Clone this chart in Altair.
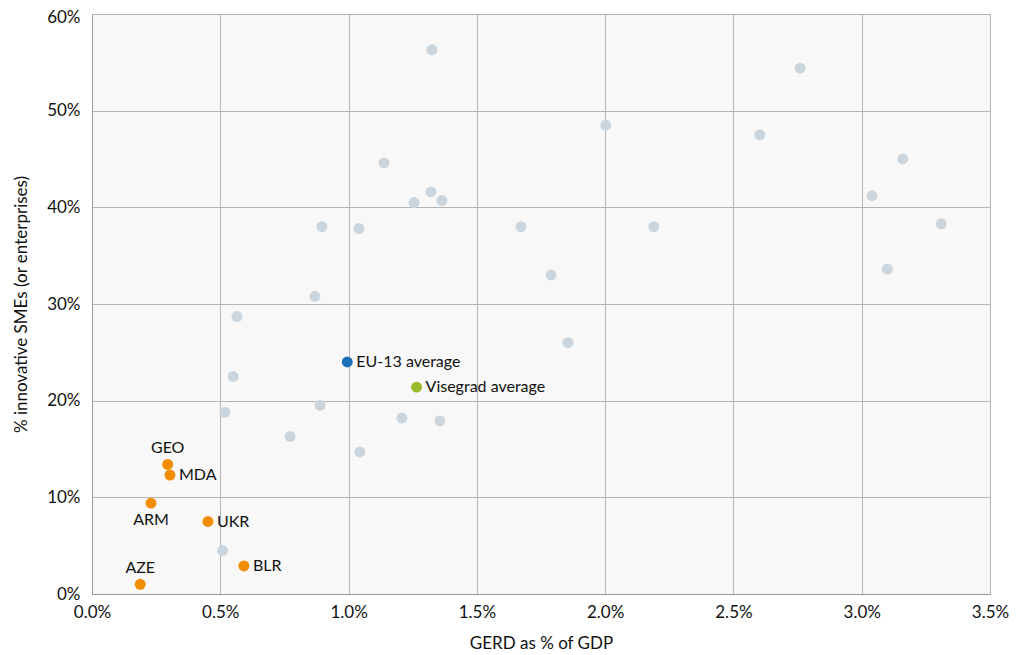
import altair as alt
import pandas as pd

# Other countries (grey)
other_x = [1.325, 2.76, 2.003, 2.603, 3.16, 3.04, 3.31, 3.10, 1.138, 1.321, 1.255, 1.364,
           0.896, 1.04, 1.672, 2.19, 1.789, 0.869, 0.565, 1.855, 0.55, 0.518, 0.889, 1.208,
           1.356, 0.772, 1.044, 0.509]
other_y = [56.3, 54.4, 48.5, 47.5, 45.0, 41.2, 38.3, 33.6, 44.6, 41.6, 40.5, 40.7,
           38.0, 37.8, 38.0, 38.0, 33.0, 30.8, 28.7, 26.0, 22.5, 18.8, 19.5, 18.2,
           17.9, 16.3, 14.7, 4.5]

# Eastern partnership countries (orange)
ep_names = ["GEO", "MDA", "ARM", "UKR", "BLR", "AZE"]
ep_x = [0.295, 0.304, 0.23, 0.452, 0.592, 0.188]
ep_y = [13.4, 12.3, 9.4, 7.5, 2.9, 1.0]

# Averages
avg_names = ["EU-13 average", "Visegrad average"]
avg_x = [0.995, 1.265]
avg_y = [24.0, 21.4]
avg_colors = ["#1f6fb8", "#9bbb2a"]

other = pd.DataFrame({"x": [v / 100 for v in other_x], "y": [v / 100 for v in other_y]})
ep = pd.DataFrame({"name": ep_names, "x": [v / 100 for v in ep_x], "y": [v / 100 for v in ep_y]})
avg = pd.DataFrame({"name": avg_names, "x": [v / 100 for v in avg_x],
                    "y": [v / 100 for v in avg_y], "color": avg_colors})

FONT = "Lato"

xenc = alt.X("x:Q", scale=alt.Scale(domain=[0, 0.035], nice=False),
             axis=alt.Axis(format=".1%", values=[0, 0.005, 0.01, 0.015, 0.02, 0.025, 0.03, 0.035],
                           title="GERD as % of GDP", titleFontSize=17, titleFontWeight="normal",
                           titlePadding=15, labelFontSize=17, labelPadding=10, ticks=False,
                           labelColor="#111", titleColor="#111", domainColor="#999",
                           gridColor="#b5b5b5", labelFlush=False))
yenc = alt.Y("y:Q", scale=alt.Scale(domain=[0, 0.6], nice=False),
             axis=alt.Axis(format=".0%", values=[0, 0.1, 0.2, 0.3, 0.4, 0.5, 0.6],
                           title="% innovative SMEs (or enterprises)", titleFontSize=17,
                           titleFontWeight="normal", titlePadding=16, labelFontSize=17,
                           labelPadding=12, ticks=False, labelColor="#111", titleColor="#111",
                           domainColor="#999", gridColor="#b5b5b5", labelFlush=False,
                           labelOffset={"condition": {"test": "datum.value >= 0.6", "value": 3},
                                        "value": 0}))

base_other = alt.Chart(other).mark_circle(size=120, color="#cad5dd", opacity=1).encode(x=xenc, y=yenc)

ep_pts = alt.Chart(ep).mark_circle(size=120, color="#f28c00", opacity=1).encode(x="x:Q", y="y:Q")

avg_pts = alt.Chart(avg).mark_circle(size=120, opacity=1).encode(
    x="x:Q", y="y:Q", color=alt.Color("color:N", scale=None))

txt_kw = dict(font=FONT, fontSize=16, color="#111")

right_labels = alt.Chart(pd.concat([ep[ep["name"].isin(["MDA", "UKR", "BLR"])], avg[["name", "x", "y"]]])).mark_text(
    align="left", baseline="middle", dx=9, **txt_kw).encode(x="x:Q", y="y:Q", text="name:N")

above_labels = alt.Chart(ep[ep["name"].isin(["GEO", "AZE"])]).mark_text(
    align="center", baseline="bottom", dy=-8, **txt_kw).encode(x="x:Q", y="y:Q", text="name:N")

below_labels = alt.Chart(ep[ep["name"].isin(["ARM"])]).mark_text(
    align="center", baseline="top", dy=9, **txt_kw).encode(x="x:Q", y="y:Q", text="name:N")

chart = alt.layer(base_other, ep_pts, avg_pts, right_labels, above_labels, below_labels).properties(
    width=898, height=580,
    autosize=alt.AutoSizeParams(type="none"),
    padding={"left": 84, "top": 6, "right": 20, "bottom": 58},
).configure_view(fill="#f8f8f8", stroke="#b5b5b5").configure_axis(
    labelFont=FONT, titleFont=FONT)

chart.save("out.html", embed_options={"renderer": "svg", "actions": False})
